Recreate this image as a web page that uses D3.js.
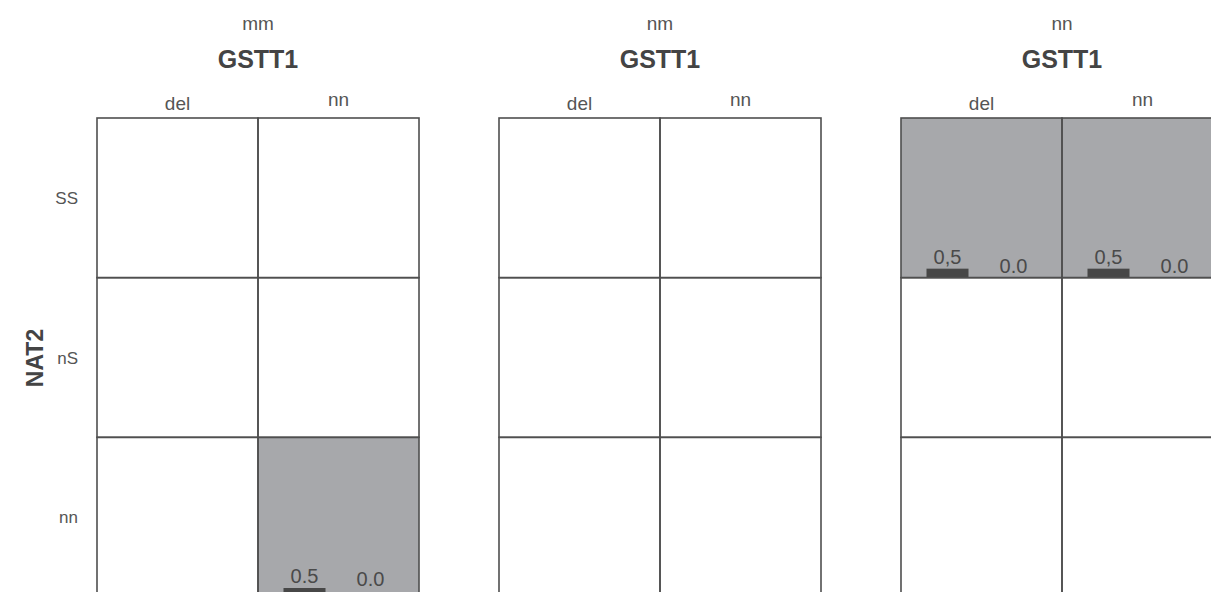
<!DOCTYPE html>
<html>
<head>
<meta charset="utf-8">
<script src="https://cdn.jsdelivr.net/npm/d3@7"></script>
<style>
  html, body { margin: 0; padding: 0; background: #fff; }
  svg { display: block; font-family: "Liberation Sans", Arial, Helvetica, sans-serif; }
</style>
</head>
<body>
<svg id="chart" width="1211" height="592"></svg>
<script>
// NAT2 genotype (rows) × GSTT1 genotype (columns), one panel per top-level genotype
const panels = ["mm", "nm", "nn"];
const gsttColumns = ["del", "nn"];
const nat2Rows = ["SS", "nS", "nn"];

// Highlighted cells and the two small bars drawn inside each
const shadedPanel = ["mm", "nn", "nn"];
const shadedRow = ["nn", "SS", "SS"];
const shadedCol = ["nn", "del", "nn"];
const barValues = [[0.5, 0.0], [0.5, 0.0], [0.5, 0.0]];
const barLabels = [["0.5", "0.0"], ["0,5", "0.0"], ["0,5", "0.0"]];
const barKeys = ["first", "second"];

const W = 1211, H = 592;
const svg = d3.select("#chart");

const lineColor = "#4f4f4f";
const textColor = "#555";
const shadeColor = "#a7a8ab";
const barColor = "#474747";

// Panel placement
const panelX = d3.scaleBand().domain(panels).range([97, 1223]).paddingInner(0.199);
const colX = d3.scaleBand().domain(gsttColumns).range([0, panelX.bandwidth()]);
const rowY = d3.scaleBand().domain(nat2Rows).range([118, 597]);

// Height of the small bars inside a cell
const barH = d3.scaleLinear().domain([0, 1]).range([0, 18]);

// Shaded cells (drawn first so grid lines sit on top)
const shaded = shadedPanel.map((p, i) => ({
  panel: p, row: shadedRow[i], col: shadedCol[i],
  values: barValues[i], labels: barLabels[i]
}));

const cellG = svg.append("g").selectAll("g.cell")
  .data(shaded).join("g")
  .attr("class", "cell")
  .attr("transform", d => `translate(${panelX(d.panel) + colX(d.col)},${rowY(d.row)})`);

cellG.append("rect")
  .attr("width", colX.bandwidth())
  .attr("height", rowY.bandwidth())
  .attr("fill", shadeColor);

// Inner bar positions: two slots around the cell centre
const cw = colX.bandwidth();
const slotX = d3.scalePoint().domain(barKeys).range([cw / 2 - 34, cw / 2 + 32]);
const barW = 42;

cellG.each(function (d) {
  const g = d3.select(this);
  const bottom = rowY.bandwidth();
  const top = rowY(d.row);
  const items = barKeys.map((k, j) => ({ key: k, v: d.values[j], label: d.labels[j] }));
  g.selectAll("rect.bar").data(items.filter(e => e.v > 0)).join("rect")
    .attr("class", "bar")
    .attr("x", e => slotX(e.key) - barW / 2)
    .attr("y", e => bottom - barH(e.v))
    .attr("width", barW)
    .attr("height", e => barH(e.v))
    .attr("fill", barColor);
  // value labels sit just above their bar, kept inside the visible area
  g.selectAll("text.val").data(items).join("text")
    .attr("class", "val")
    .attr("x", e => slotX(e.key))
    .attr("y", e => Math.min(bottom - barH(e.v) - 5, H - 6 - top))
    .attr("text-anchor", "middle")
    .attr("font-size", 20)
    .attr("fill", "#4a4a4a")
    .text(e => e.label);
});

// Grid of cells per panel
const panelG = svg.append("g").selectAll("g.panel")
  .data(panels).join("g")
  .attr("class", "panel")
  .attr("transform", d => `translate(${panelX(d)},0)`);

panelG.each(function () {
  const g = d3.select(this);
  nat2Rows.forEach(r => {
    gsttColumns.forEach(c => {
      g.append("rect")
        .attr("x", colX(c))
        .attr("y", rowY(r))
        .attr("width", colX.bandwidth())
        .attr("height", rowY.bandwidth())
        .attr("fill", "none")
        .attr("stroke", lineColor)
        .attr("stroke-width", 1.6);
    });
  });
});

// Panel headings
panelG.append("text")
  .attr("x", panelX.bandwidth() / 2)
  .attr("y", 30)
  .attr("text-anchor", "middle")
  .attr("font-size", 19)
  .attr("fill", textColor)
  .text(d => d);

panelG.append("text")
  .attr("x", panelX.bandwidth() / 2)
  .attr("y", 68)
  .attr("text-anchor", "middle")
  .attr("font-size", 25)
  .attr("font-weight", "bold")
  .attr("fill", "#444")
  .text("GSTT1");

panelG.selectAll("text.col")
  .data(gsttColumns).join("text")
  .attr("class", "col")
  .attr("x", c => colX(c) + colX.bandwidth() / 2)
  .attr("y", (c, i) => i === 0 ? 110 : 106)
  .attr("text-anchor", "middle")
  .attr("font-size", 19)
  .attr("fill", textColor)
  .text(c => c);

// Row labels on the left of the first panel
svg.append("g").selectAll("text")
  .data(nat2Rows).join("text")
  .attr("x", 78)
  .attr("y", r => rowY(r) + rowY.bandwidth() / 2 + 6)
  .attr("text-anchor", "end")
  .attr("font-size", 17)
  .attr("fill", textColor)
  .text(r => r);

svg.append("text")
  .attr("transform", `translate(43,${rowY.range()[0] + 240}) rotate(-90)`)
  .attr("text-anchor", "middle")
  .attr("font-size", 23)
  .attr("font-weight", "bold")
  .attr("fill", "#444")
  .text("NAT2");
</script>
</body>
</html>
